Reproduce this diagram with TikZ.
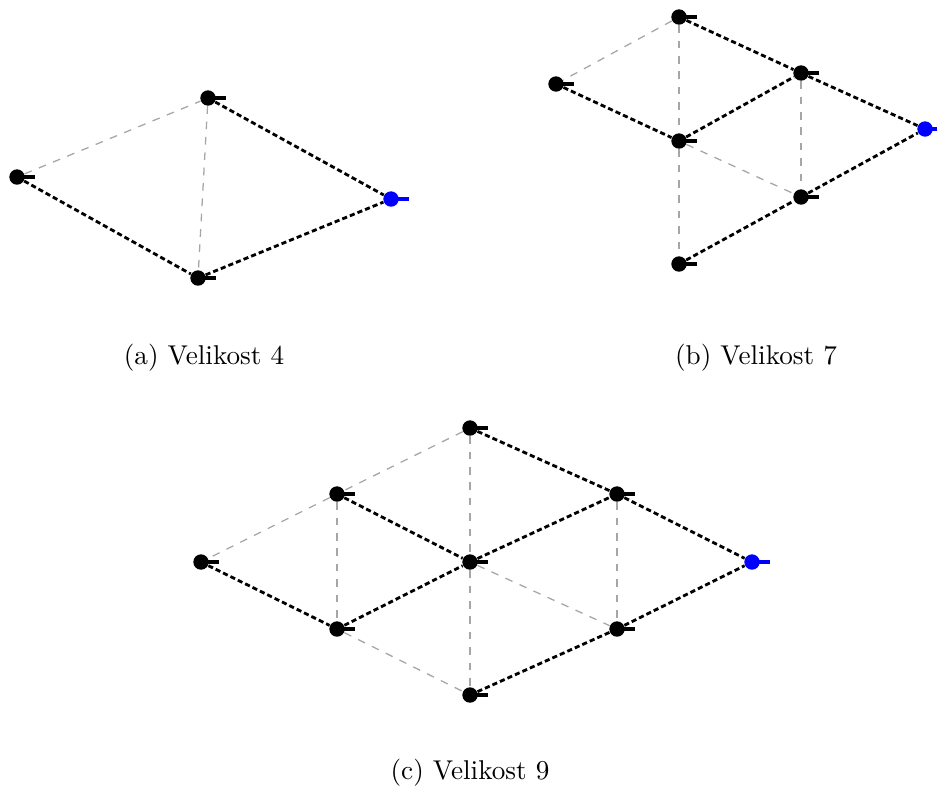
\documentclass[tikz,border=0pt]{standalone}
\usepackage{tikz}
\usetikzlibrary{calc}

\begin{document}
\begin{tikzpicture}[x=0.39pt,y=-0.39pt,
  vrchol/.style={circle,fill=black,inner sep=0pt,minimum size=6pt},
  koren/.style={vrchol,fill=blue},
  hrana/.style={draw=black,line width=1.1pt,dash pattern=on 2pt off 1.2pt},
  slaba/.style={draw=black!35,line width=0.5pt,dashed},
  caption/.style={font=\fontsize{10.6}{13}\selectfont}]
\useasboundingbox (0,0) rectangle (937,791);

% (a) velikost 4
\node[vrchol] (a1) at (17,177) {};
\node[vrchol] (a2) at (208,98) {};
\node[vrchol] (a3) at (198,278) {};
\node[koren] (a4) at (391,199) {};
\draw[slaba] (a1) -- (a2);
\draw[slaba] (a2) -- (a3);
\draw[hrana] (a1) -- (a3);
\draw[hrana] (a2) -- (a4);
\draw[hrana] (a3) -- (a4);
\node[caption] (capa) at (204,358) {(a) Velikost 4};

% (b) velikost 7
\node[vrchol] (b1) at (679,17) {};
\node[vrchol] (b2) at (556,84) {};
\node[vrchol] (b3) at (679,141) {};
\node[vrchol] (b4) at (801,73) {};
\node[koren] (b5) at (925,129) {};
\node[vrchol] (b6) at (801,197) {};
\node[vrchol] (b7) at (679,264) {};
\draw[slaba] (b1) -- (b2);
\draw[slaba] (b1) -- (b3);
\draw[slaba] (b3) -- (b7);
\draw[slaba] (b3) -- (b6);
\draw[slaba] (b4) -- (b6);
\draw[hrana] (b1) -- (b4);
\draw[hrana] (b4) -- (b5);
\draw[hrana] (b2) -- (b3);
\draw[hrana] (b3) -- (b4);
\draw[hrana] (b6) -- (b5);
\draw[hrana] (b7) -- (b6);
\node[caption] (capb) at (756,358) {(b) Velikost 7};

% (c) velikost 9
\node[vrchol] (c1) at (470,428) {};
\node[vrchol] (c2) at (337,494) {};
\node[vrchol] (c3) at (201,562) {};
\node[vrchol] (c4) at (470,562) {};
\node[vrchol] (c5) at (617,494) {};
\node[koren] (c6) at (752,562) {};
\node[vrchol] (c7) at (337,629) {};
\node[vrchol] (c8) at (617,629) {};
\node[vrchol] (c9) at (470,695) {};
\draw[slaba] (c1) -- (c2);
\draw[slaba] (c2) -- (c3);
\draw[slaba] (c2) -- (c7);
\draw[slaba] (c1) -- (c4);
\draw[slaba] (c4) -- (c9);
\draw[slaba] (c7) -- (c9);
\draw[slaba] (c4) -- (c8);
\draw[slaba] (c5) -- (c8);
\draw[hrana] (c1) -- (c5);
\draw[hrana] (c5) -- (c6);
\draw[hrana] (c2) -- (c4);
\draw[hrana] (c4) -- (c5);
\draw[hrana] (c3) -- (c7);
\draw[hrana] (c7) -- (c4);
\draw[hrana] (c8) -- (c6);
\draw[hrana] (c9) -- (c8);
\node[caption] (capc) at (470,773) {(c) Velikost 9};

% carky u vrcholu
\foreach \v in {a1,a2,a3,b1,b2,b3,b4,b6,b7,c1,c2,c3,c4,c5,c7,c8,c9}
  \draw[line width=1.5pt] (\v.center) -- ++(18,0);
\foreach \v in {a4,b5,c6}
  \draw[blue,line width=1.5pt] (\v.center) -- ++(18,0);
\end{tikzpicture}
\end{document}
